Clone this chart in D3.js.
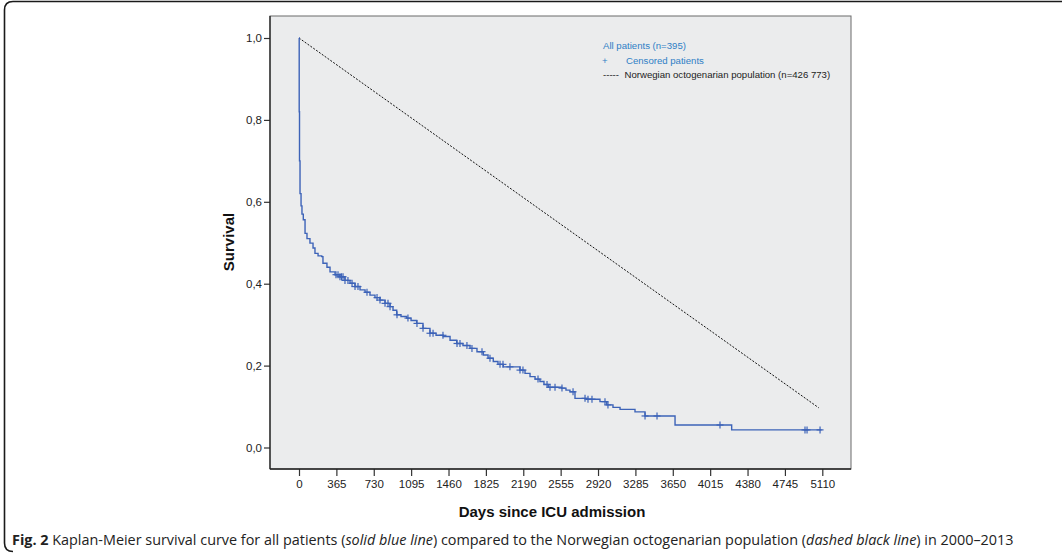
<!DOCTYPE html>
<html>
<head>
<meta charset="utf-8">
<script src="https://cdn.jsdelivr.net/npm/d3@7"></script>
<style>
  html, body { margin: 0; padding: 0; background: #fff; }
  svg { display: block; }
</style>
</head>
<body>
<svg id="chart" width="1062" height="553"></svg>
<script>
// Kaplan-Meier estimate: day of each step and survival after that step
const stepDays = [0, 2, 5, 10, 20, 29, 42, 59, 78, 107, 137, 156, 186, 222, 234, 273, 303, 352, 400, 449, 498, 547,
  596, 645, 693, 742, 791, 840, 889, 918, 954, 996, 1052, 1094, 1149, 1211, 1279, 1338, 1409, 1475, 1540,
  1601, 1670, 1738, 1800, 1846, 1897, 1943, 1995, 2158, 2207, 2256, 2305, 2353, 2392, 2434, 2565, 2607,
  2646, 2695, 2809, 2939, 3005, 3066, 3135, 3281, 3379, 3672, 4225];
const stepSurvival = [1.0, 0.82, 0.7, 0.62, 0.59, 0.57, 0.556, 0.523, 0.51, 0.499, 0.487, 0.474, 0.468, 0.466, 0.45,
  0.44, 0.429, 0.422, 0.417, 0.408, 0.401, 0.393, 0.385, 0.379, 0.372, 0.366, 0.36, 0.352, 0.344, 0.335,
  0.324, 0.32, 0.316, 0.31, 0.303, 0.291, 0.279, 0.274, 0.271, 0.262, 0.254, 0.249, 0.242, 0.234, 0.226,
  0.218, 0.21, 0.203, 0.197, 0.189, 0.181, 0.173, 0.167, 0.161, 0.154, 0.147, 0.145, 0.14, 0.136, 0.12,
  0.118, 0.112, 0.104, 0.098, 0.093, 0.087, 0.077, 0.055, 0.043];
const followUpEnd = 5104;

// Days at which patients were censored
const censorDays = [361, 381, 400, 415, 430, 449, 478, 518, 547, 576, 664, 762, 791, 840, 869, 889, 957, 1064,
  1152, 1211, 1279, 1309, 1406, 1543, 1572, 1640, 1689, 1787, 1865, 1963, 1992, 2060, 2158, 2187, 2334,
  2422, 2451, 2500, 2568, 2676, 2793, 2822, 2861, 2988, 3017, 3379, 3496, 4111, 4941, 4961, 5088];

// Expected survival of the general octogenarian population
const popDays = [0, 5075];
const popSurvival = [1.0, 0.097];

const xTicks = [0, 365, 730, 1095, 1460, 1825, 2190, 2555, 2920, 3285, 3650, 4015, 4380, 4745, 5110];
const yTicks = [0, 0.2, 0.4, 0.6, 0.8, 1.0];

const legendItems = ["All patients (n=395)", "Censored patients", "Norwegian octogenarian population (n=426 773)"];

const svg = d3.select("#chart");
const blue = "#3d63b8";
const legendBlue = "#2f7fc6";
const sans = "'Liberation Sans', Arial, sans-serif";

// outer figure frame (rounded on the left, open to the right)
svg.append("path")
  .attr("d", "M1062,1.5 L13,1.5 Q4.5,1.5 4.5,10 L4.5,543 Q4.5,551.5 13,551.5")
  .attr("fill", "none").attr("stroke", "#1a1a1a").attr("stroke-width", 1.6);

const plot = { x0: 270, y0: 16, x1: 851, y1: 469 };

const x = d3.scaleLinear().domain([0, 5110]).range([299, 822.3]);
const y = d3.scaleLinear().domain([0, 1]).range([447.5, 38]);

// plot background
svg.append("rect")
  .attr("x", plot.x0).attr("y", plot.y0)
  .attr("width", plot.x1 - plot.x0).attr("height", plot.y1 - plot.y0)
  .attr("fill", "#ebeced").attr("stroke", "#6a6a6a").attr("stroke-width", 1);

// axes
const yAxis = d3.axisLeft(y).tickValues(yTicks).tickSize(6).tickPadding(2)
  .tickFormat(d => d3.format(".1f")(d).replace(".", ","));
const gy = svg.append("g").attr("transform", `translate(${plot.x0},0)`).call(yAxis);
gy.select(".domain").remove();
gy.append("line").attr("x1", 0).attr("x2", 0).attr("y1", plot.y0).attr("y2", plot.y1)
  .attr("stroke", "#222").attr("stroke-width", 1.3);

const xAxis = d3.axisBottom(x).tickValues(xTicks).tickSize(7).tickPadding(4).tickFormat(d => d);
const gx = svg.append("g").attr("transform", `translate(0,${plot.y1})`).call(xAxis);
gx.select(".domain").remove();
gx.append("line").attr("x1", plot.x0).attr("x2", plot.x1).attr("y1", 0).attr("y2", 0)
  .attr("stroke", "#222").attr("stroke-width", 1.6);

[gx, gy].forEach(g => {
  g.selectAll(".tick line").attr("stroke", "#333").attr("stroke-width", 1.2);
  g.selectAll(".tick text").attr("font-family", sans).attr("font-size", 11.5).attr("fill", "#222");
});

// axis titles
svg.append("text")
  .attr("x", 552).attr("y", 517)
  .attr("text-anchor", "middle")
  .attr("font-family", sans).attr("font-weight", "bold").attr("font-size", 15).attr("fill", "#111")
  .text("Days since ICU admission");
svg.append("text")
  .attr("transform", "translate(234,242) rotate(-90)")
  .attr("text-anchor", "middle")
  .attr("font-family", sans).attr("font-weight", "bold").attr("font-size", 15).attr("fill", "#111")
  .text("Survival");

// population reference line
const popData = popDays.map((d, i) => [d, popSurvival[i]]);
svg.append("path")
  .datum(popData)
  .attr("d", d3.line().x(d => x(d[0])).y(d => y(d[1])))
  .attr("fill", "none").attr("stroke", "#111").attr("stroke-width", 1).attr("stroke-dasharray", "2,1.5");

// Kaplan-Meier step curve
const kmData = stepDays.map((d, i) => [d, stepSurvival[i]]);
kmData.push([followUpEnd, stepSurvival[stepSurvival.length - 1]]);
svg.append("path")
  .datum(kmData)
  .attr("d", d3.line().x(d => x(d[0])).y(d => y(d[1])).curve(d3.curveStepAfter))
  .attr("fill", "none").attr("stroke", blue).attr("stroke-width", 1.4);

// censoring marks
const bis = d3.bisector(d => d).right;
const survAt = t => stepSurvival[Math.max(0, bis(stepDays, t) - 1)];
const marks = svg.append("g").attr("stroke", blue).attr("stroke-width", 1.2);
censorDays.forEach(t => {
  const cx = x(t), cy = y(survAt(t));
  marks.append("line").attr("x1", cx - 3.5).attr("x2", cx + 3.5).attr("y1", cy).attr("y2", cy);
  marks.append("line").attr("x1", cx).attr("x2", cx).attr("y1", cy - 3.5).attr("y2", cy + 3.5);
});

// legend
const lg = svg.append("g").attr("font-family", sans).attr("font-size", 9.6);
lg.append("text").attr("x", 603).attr("y", 49).attr("fill", legendBlue).text(legendItems[0]);
lg.append("text").attr("x", 602).attr("y", 64).attr("fill", legendBlue).text("+");
lg.append("text").attr("x", 626).attr("y", 64).attr("fill", legendBlue).text(legendItems[1]);
lg.append("text").attr("x", 603).attr("y", 77.5).attr("fill", "#222").text("-----");
lg.append("text").attr("x", 624.5).attr("y", 77.5).attr("fill", "#222").text(legendItems[2]);

// caption
const cap = svg.append("text").attr("x", 12).attr("y", 545)
  .attr("font-family", "'Open Sans', 'Noto Sans', sans-serif").attr("font-size", 14.4).attr("fill", "#222");
cap.append("tspan").attr("font-weight", "bold").text("Fig. 2");
cap.append("tspan").text(" Kaplan-Meier survival curve for all patients (");
cap.append("tspan").attr("font-style", "italic").text("solid blue line");
cap.append("tspan").text(") compared to the Norwegian octogenarian population (");
cap.append("tspan").attr("font-style", "italic").text("dashed black line");
cap.append("tspan").text(") in 2000–2013");
</script>
</body>
</html>
